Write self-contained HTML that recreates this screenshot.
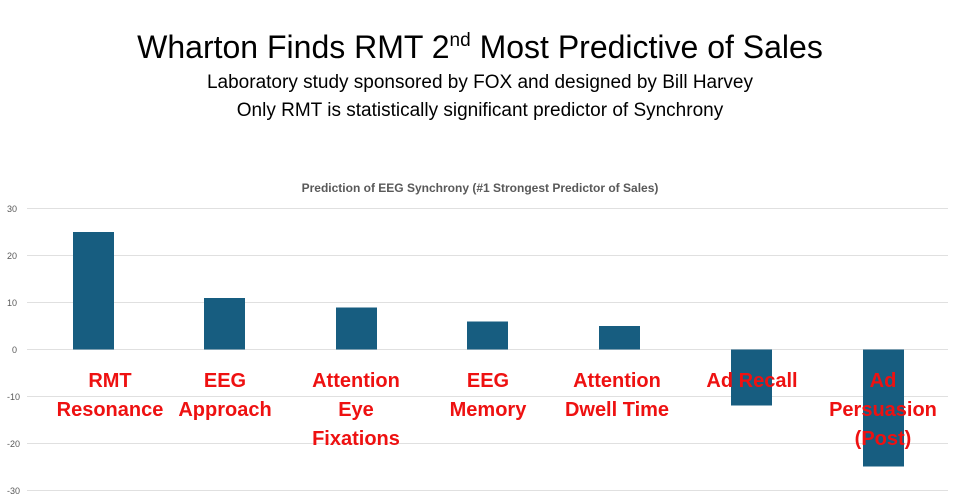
<!DOCTYPE html>
<html><head><meta charset="utf-8"><style>
html,body{margin:0;padding:0;background:#fff;width:960px;height:502px;overflow:hidden}
svg{display:block}
</style></head><body>
<svg width="960" height="502" xmlns="http://www.w3.org/2000/svg" font-family="Liberation Sans, sans-serif">
<rect width="960" height="502" fill="#fff"/>
<text x="480" y="58" text-anchor="middle" font-size="32" fill="#000">Wharton Finds RMT 2<tspan font-size="19" dy="-12">nd</tspan><tspan dy="12"> Most Predictive of Sales</tspan></text>
<text x="480" y="88" text-anchor="middle" font-size="19" fill="#000">Laboratory study sponsored by FOX and designed by Bill Harvey</text>
<text x="480" y="116" text-anchor="middle" font-size="19" fill="#000">Only RMT is statistically significant predictor of Synchrony</text>
<text x="480" y="192" text-anchor="middle" font-size="12" font-weight="bold" fill="#595959">Prediction of EEG Synchrony (#1 Strongest Predictor of Sales)</text>
<g stroke="#e0e0e0" stroke-width="1">
<line x1="27" x2="948" y1="208.5" y2="208.5"/><line x1="27" x2="948" y1="255.5" y2="255.5"/>
<line x1="27" x2="948" y1="302.5" y2="302.5"/><line x1="27" x2="948" y1="349.5" y2="349.5"/>
<line x1="27" x2="948" y1="396.5" y2="396.5"/><line x1="27" x2="948" y1="443.5" y2="443.5"/>
<line x1="27" x2="948" y1="490.5" y2="490.5"/>
</g>
<g font-size="9" fill="#595959" text-anchor="end">
<text x="17" y="212">30</text><text x="17" y="259">20</text><text x="17" y="306">10</text>
<text x="17" y="353">0</text><text x="20" y="400">-10</text><text x="20" y="447">-20</text><text x="20" y="494">-30</text>
</g>
<g fill="#175d80">
<rect x="73" y="232" width="41" height="117.5"/>
<rect x="204" y="298" width="41" height="51.5"/>
<rect x="336" y="307.5" width="41" height="42"/>
<rect x="467" y="321.5" width="41" height="28"/>
<rect x="599" y="326" width="41" height="23.5"/>
<rect x="731" y="349.5" width="41" height="56"/>
<rect x="863" y="349.5" width="41" height="117"/>
</g>
<g font-size="20" font-weight="bold" fill="#ee1111" text-anchor="middle">
<text x="110" y="387">RMT</text><text x="110" y="416">Resonance</text>
<text x="225" y="387">EEG</text><text x="225" y="416">Approach</text>
<text x="356" y="387">Attention</text><text x="356" y="416">Eye</text><text x="356" y="445">Fixations</text>
<text x="488" y="387">EEG</text><text x="488" y="416">Memory</text>
<text x="617" y="387">Attention</text><text x="617" y="416">Dwell Time</text>
<text x="752" y="387">Ad Recall</text>
<text x="883" y="387">Ad</text><text x="883" y="416">Persuasion</text><text x="883" y="445">(Post)</text>
</g>
</svg>
</body></html>
